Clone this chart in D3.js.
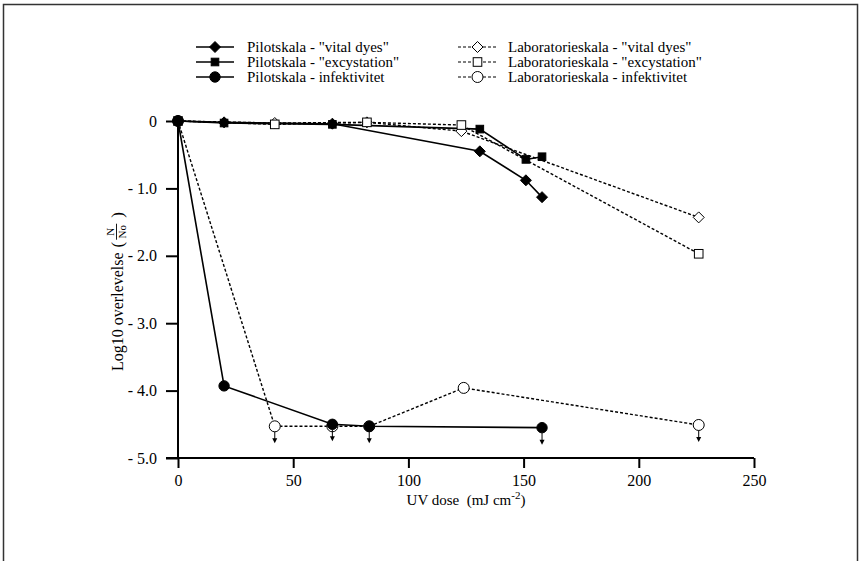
<!DOCTYPE html>
<html>
<head>
<meta charset="utf-8">
<script src="https://cdn.jsdelivr.net/npm/d3@7"></script>
<style>
  body { margin: 0; background: #fff; }
  svg text { font-family: "Liberation Serif", "Times New Roman", Times, "DejaVu Serif", serif; fill: #000; }
</style>
</head>
<body>
<div id="chart"></div>
<script>
// Data (UV dose in mJ/cm2, log10 survival)
const pilotVitalDose = [0, 20, 67, 131, 151, 158];
const pilotVitalLog = [0, -0.02, -0.04, -0.45, -0.88, -1.13];
const pilotExcystDose = [0, 20, 67, 131, 151, 158];
const pilotExcystLog = [0, -0.03, -0.05, -0.12, -0.57, -0.53];
const pilotInfDose = [0, 20, 67, 83, 158];
const pilotInfLog = [0, -3.93, -4.5, -4.53, -4.55];
const labVitalDose = [0, 42, 82, 123, 226];
const labVitalLog = [0, -0.03, -0.02, -0.15, -1.43];
const labExcystDose = [0, 42, 82, 123, 226];
const labExcystLog = [0, -0.05, -0.02, -0.06, -1.97];
const labInfDose = [0, 42, 67, 83, 124, 226];
const labInfLog = [0, -4.53, -4.53, -4.53, -3.96, -4.51];
// points that are below detection limit (arrows)
const pilotInfBelow = [false, false, true, true, true];
const labInfBelow = [false, true, false, false, false, true];

const xTicks = [0, 50, 100, 150, 200, 250];
const yTicks = [0, -1, -2, -3, -4, -5];
const yTickLabels = ["0", "- 1.0", "- 2.0", "- 3.0", "- 4.0", "- 5.0"];

const zip = (xs, ys, below) => xs.map((d, i) => ({ x: d, y: ys[i], below: below ? below[i] : false }));

const series = [
  { name: 'Pilotskala - "vital dyes"', pts: zip(pilotVitalDose, pilotVitalLog), dashed: false, shape: "diamond", filled: true },
  { name: 'Pilotskala - "excystation"', pts: zip(pilotExcystDose, pilotExcystLog), dashed: false, shape: "square", filled: true },
  { name: "Pilotskala - infektivitet", pts: zip(pilotInfDose, pilotInfLog, pilotInfBelow), dashed: false, shape: "circle", filled: true },
  { name: 'Laboratorieskala - "vital dyes"', pts: zip(labVitalDose, labVitalLog), dashed: true, shape: "diamond", filled: false },
  { name: 'Laboratorieskala - "excystation"', pts: zip(labExcystDose, labExcystLog), dashed: true, shape: "square", filled: false },
  { name: "Laboratorieskala - infektivitet", pts: zip(labInfDose, labInfLog, labInfBelow), dashed: true, shape: "circle", filled: false }
];

const width = 860, height = 561;
const svg = d3.select("#chart").append("svg")
  .attr("width", width).attr("height", height);

// Frame
svg.append("rect")
  .attr("x", 3.5).attr("y", 4.5)
  .attr("width", 854).attr("height", 570)
  .attr("fill", "none").attr("stroke", "#333").attr("stroke-width", 1.5);

const x = d3.scaleLinear().domain([0, 250]).range([178, 754]);
const y = d3.scaleLinear().domain([0, -5]).range([121, 458]);

// Axes
const xAxis = svg.append("g")
  .attr("transform", `translate(0, ${y(-5)})`)
  .call(d3.axisBottom(x).tickValues(xTicks).tickSize(10).tickPadding(7).tickFormat(d3.format("d")));
xAxis.select(".domain").remove();
xAxis.append("line")
  .attr("x1", 166).attr("x2", x(250)).attr("stroke", "#000").attr("stroke-width", 2);

const yAxis = svg.append("g")
  .attr("transform", `translate(${x(0)}, 0)`)
  .call(d3.axisLeft(y).tickValues(yTicks).tickSize(12).tickPadding(9).tickFormat((d, i) => yTickLabels[i]));
yAxis.select(".domain").remove();
yAxis.append("line")
  .attr("y1", y(0)).attr("y2", y(-5)).attr("stroke", "#000").attr("stroke-width", 2);

svg.selectAll(".tick line").attr("stroke", "#000").attr("stroke-width", 2);
svg.selectAll(".tick text").style("font-size", "16px");
svg.selectAll("g").attr("font-family", null);

// Axis titles
const xt = svg.append("text")
  .attr("x", 466).attr("y", 505)
  .attr("text-anchor", "middle")
  .style("font-size", "15px");
xt.append("tspan").text("UV dose\u00a0 (mJ cm");
xt.append("tspan").attr("dy", -6).style("font-size", "11px").text("-2");
xt.append("tspan").attr("dy", 6).text(")");

// y title: "Log10 overlevelse ( N/No )", laid out along the rotated axis
const yt = svg.append("g").attr("transform", "translate(123, 371) rotate(-90)");
const ytMain = yt.append("text").attr("x", 0).attr("y", 0).style("font-size", "16px").text("Log10 overlevelse");
const mainLen = ytMain.node().getComputedTextLength();
const px = mainLen + 5;
const lp = yt.append("text").attr("x", px).attr("y", 0).style("font-size", "17px").text("(");
const fx = px + lp.node().getComputedTextLength() + 10;
yt.append("text").attr("x", fx).attr("y", -9).attr("text-anchor", "middle").style("font-size", "11px").text("N");
yt.append("line").attr("x1", fx - 8).attr("x2", fx + 8).attr("y1", -6.5).attr("y2", -6.5).attr("stroke", "#000").attr("stroke-width", 0.9);
yt.append("text").attr("x", fx).attr("y", 3).attr("text-anchor", "middle").style("font-size", "11px").text("No");
yt.append("text").attr("x", fx + 14).attr("y", 0).style("font-size", "17px").text(")");

// Markers
function drawMarker(g, s, cx, cy) {
  const fill = s.filled ? "#000" : "#fff";
  if (s.shape === "diamond") {
    const r = 5.5;
    g.append("path")
      .attr("d", `M${cx},${cy - r}L${cx + r},${cy}L${cx},${cy + r}L${cx - r},${cy}Z`)
      .attr("fill", fill).attr("stroke", "#000").attr("stroke-width", 1);
  } else if (s.shape === "square") {
    const r = s.filled ? 3.8 : 4.3;
    g.append("rect")
      .attr("x", cx - r).attr("y", cy - r).attr("width", 2 * r).attr("height", 2 * r)
      .attr("fill", fill).attr("stroke", "#000").attr("stroke-width", 1);
  } else {
    g.append("circle")
      .attr("cx", cx).attr("cy", cy).attr("r", s.filled ? 5.2 : 5.5)
      .attr("fill", fill).attr("stroke", "#000").attr("stroke-width", 1);
  }
}

const line = d3.line().x(d => x(d.x)).y(d => y(d.y));

// Draw dashed (lab) first, then solid (pilot) on top
const order = [3, 4, 5, 0, 1, 2];
order.forEach(i => {
  const s = series[i];
  svg.append("path")
    .attr("d", line(s.pts))
    .attr("fill", "none")
    .attr("stroke", "#000")
    .attr("stroke-width", s.dashed ? 1.4 : 1.6)
    .attr("stroke-dasharray", s.dashed ? "3,2" : null);
});
order.forEach(i => {
  const s = series[i];
  const g = svg.append("g");
  s.pts.forEach(p => {
    const cx = x(p.x), cy = y(p.y);
    if (p.below) {
      g.append("line")
        .attr("x1", cx).attr("x2", cx).attr("y1", cy + 5).attr("y2", cy + 13)
        .attr("stroke", "#000").attr("stroke-width", 1);
      g.append("path")
        .attr("d", `M${cx - 2.5},${cy + 12}L${cx + 2.5},${cy + 12}L${cx},${cy + 17}Z`)
        .attr("fill", "#000");
    }
    drawMarker(g, s, cx, cy);
  });
});

// Legend
const legendRows = [47, 62, 77];
series.forEach((s, i) => {
  const col = i < 3 ? 0 : 1;
  const ly = legendRows[i % 3];
  const x0 = col === 0 ? 196 : 458;
  const x1 = col === 0 ? 234 : 497;
  const tx = col === 0 ? 247 : 508;
  const g = svg.append("g");
  g.append("line")
    .attr("x1", x0).attr("x2", x1).attr("y1", ly).attr("y2", ly)
    .attr("stroke", "#000")
    .attr("stroke-width", s.dashed ? 1.2 : 1.6)
    .attr("stroke-dasharray", s.dashed ? "3,2" : null);
  drawMarker(g, s, (x0 + x1) / 2, ly);
  g.append("text")
    .attr("x", tx).attr("y", ly + 5)
    .style("font-size", "15px")
    .text(s.name);
});
</script>
</body>
</html>
